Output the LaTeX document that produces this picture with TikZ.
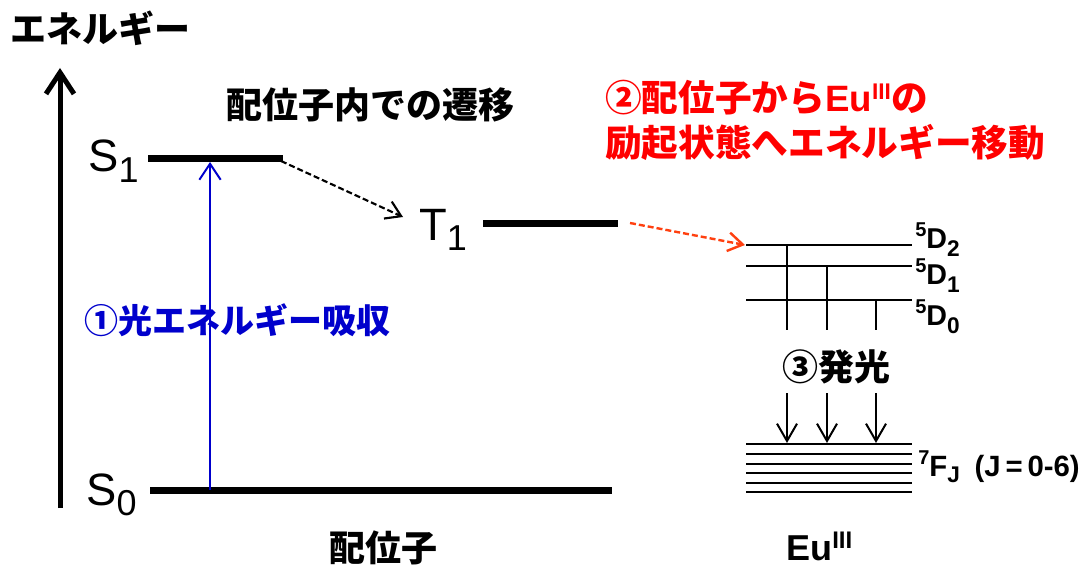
\documentclass[tikz,border=0pt]{standalone}
\usepackage{fontspec}
\setmainfont{Liberation Sans}
\newfontfamily\jp{Noto Sans CJK JP}
\usetikzlibrary{arrows.meta}
\definecolor{myblue}{RGB}{0,0,204}
\definecolor{myred}{RGB}{255,0,0}
\definecolor{myorange}{RGB}{255,64,16}
\newcommand{\termsym}[5]{{\raisebox{#4}{\fontsize{15}{15}\selectfont #1}#2\raisebox{#5}{\fontsize{17}{17}\selectfont #3}}}
\tikzset{
  biglevel/.style={line width=5.25pt},
  eulevel/.style={line width=2.2pt},
  jplabel/.style={font=\jp\bfseries\fontsize{27}{30}\selectfont, inner sep=0pt},
  statelabel/.style={font=\fontsize{34}{36}\selectfont, inner sep=0pt, anchor=base west},
  eulabel/.style={font=\bfseries\fontsize{21.5}{22}\selectfont, inner sep=0pt, anchor=base west},
  axisarrow/.style={line width=3.75pt, -{Straight Barb[length=16pt,width=21pt]}},
  transarrow/.style={line width=1.6pt, dash pattern=on 4.5pt off 2.25pt, -{Straight Barb[length=11pt,width=14pt]}},
  emitarrow/.style={line width=1.5pt, -{Straight Barb[length=13pt,width=15pt]}},
  thinline/.style={line width=1.5pt}
}
\begin{document}
\begin{tikzpicture}[x=0.75pt,y=-0.75pt]
\useasboundingbox (0,0) rectangle (1091,570);

% energy axis
\node[jplabel] (energy) at (100,28) {エネルギー};
\coordinate (axbot) at (60,508);
\coordinate (axtop) at (60,68);
\draw[axisarrow] (axbot) -- (axtop);

% ligand levels
\node[statelabel] (S1) at (88,172) {S\raisebox{-8pt}{\fontsize{27}{27}\selectfont 1}};
\node[statelabel] (S0) at (86,505) {S\raisebox{-8pt}{\fontsize{27}{27}\selectfont 0}};
\node[statelabel] (T1) at (419,240) {T\raisebox{-8pt}{\fontsize{27}{27}\selectfont 1}};
\coordinate (s1a) at (148,159); \coordinate (s1b) at (283,159);
\coordinate (s0a) at (150,490); \coordinate (s0b) at (612,490);
\coordinate (t1a) at (483,224); \coordinate (t1b) at (618,224);
\draw[biglevel] (s1a) -- (s1b);
\draw[biglevel] (s0a) -- (s0b);
\draw[biglevel] (t1a) -- (t1b);

\node[jplabel] (intra) at (370,105) {配位子内での遷移};
\node[jplabel, text=myblue, font=\jp\bfseries\fontsize{25.5}{28}\selectfont] (absorb) at (237,320) {①光エネルギー吸収};
\node[jplabel] (ligand) at (383,548) {配位子};

% absorption arrow
\coordinate (absbot) at (210,490);
\coordinate (abstop) at (210,162);
\draw[myblue, line width=1.5pt, -{Straight Barb[length=12pt,width=16pt]}] (absbot) -- (abstop);

% intersystem crossing
\coordinate (iscend) at (403,217);
\draw[transarrow] (281,161) -- (iscend);

% energy transfer
\node[jplabel, anchor=west, text=myred, font=\jp\bfseries\fontsize{27.5}{30}\selectfont] (tr1) at (605,98)
  {②配位子から{\fontspec{Liberation Sans}\bfseries Eu\raisebox{9pt}{\fontsize{17}{18}\selectfont III}}の};
\node[jplabel, anchor=west, text=myred, font=\jp\bfseries\fontsize{27.5}{30}\selectfont] (tr2) at (605,142)
  {励起状態へエネルギー移動};
\coordinate (etstart) at (630,223);
\coordinate (etend) at (745,245);
\draw[transarrow, myorange, line width=1.8pt] (etstart) -- (etend);

% Eu levels
\foreach \n/\y in {d2/245, d1/266, d0/300, f0/444, f1/454, f2/464, f3/473, f4/483, f5/492} {
  \coordinate (\n a) at (746,\y);
  \coordinate (\n b) at (912,\y);
  \draw[eulevel] (\n a) -- (\n b);
}
\node[eulabel] (D2) at (915,248) {\termsym{5}{D}{2}{9pt}{-6pt}};
\node[eulabel] (D1) at (915,284) {\termsym{5}{D}{1}{9pt}{-6pt}};
\node[eulabel] (D0) at (915,325) {\termsym{5}{D}{0}{9pt}{-6pt}};
\node[eulabel, font=\bfseries\fontsize{22}{22}\selectfont] (FJ) at (918,476)
  {\termsym{7}{F}{J}{9pt}{-5pt}\hspace{11pt}(J\,=\,0-6)};

% vertical connectors from D levels
\coordinate (v1t) at (787,244); \coordinate (v1b) at (787,330);
\coordinate (v2t) at (827,266); \coordinate (v2b) at (827,330);
\coordinate (v3t) at (876,300); \coordinate (v3b) at (876,330);
\draw[thinline] (v1t) -- (v1b);
\draw[thinline] (v2t) -- (v2b);
\draw[thinline] (v3t) -- (v3b);

\node[jplabel] (emit) at (836,367) {③発光};

% emission arrows
\coordinate (e1t) at (787,393); \coordinate (e1b) at (787,443);
\coordinate (e2t) at (827,393); \coordinate (e2b) at (827,443);
\coordinate (e3t) at (876,393); \coordinate (e3b) at (876,443);
\draw[emitarrow] (e1t) -- (e1b);
\draw[emitarrow] (e2t) -- (e2b);
\draw[emitarrow] (e3t) -- (e3b);

\node[inner sep=0pt, anchor=base west, font=\bfseries\fontsize{27}{28}\selectfont] (eu) at (786,560)
  {Eu\raisebox{9pt}{\fontsize{18}{18}\selectfont III}};
\end{tikzpicture}
\end{document}
